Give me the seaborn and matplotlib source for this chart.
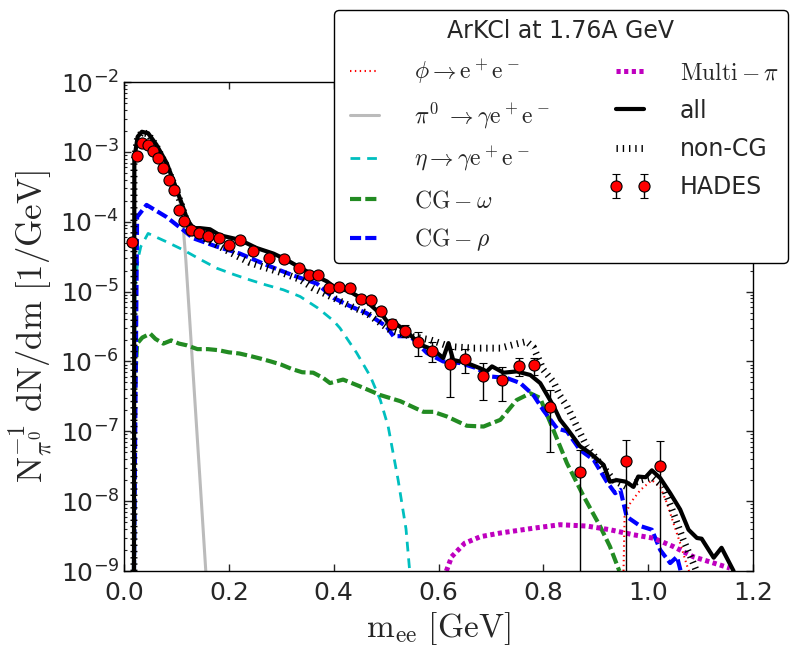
import matplotlib.pyplot as plt
import pandas as pd
import seaborn as sns
from matplotlib.ticker import LogLocator, NullFormatter

# HADES data points (m_ee in GeV, yield, symmetric error)
hades_m = [0.015, 0.025, 0.035, 0.045, 0.055, 0.065, 0.075, 0.085, 0.095, 0.105,
           0.115, 0.127, 0.143, 0.161, 0.181, 0.201, 0.221, 0.246, 0.276, 0.305,
           0.333, 0.352, 0.371, 0.392, 0.411, 0.431, 0.452, 0.471, 0.490, 0.512,
           0.536, 0.561, 0.588, 0.622, 0.651, 0.684, 0.721, 0.754, 0.782, 0.812,
           0.870, 0.957, 1.022]
hades_y = [5.1e-5, 8.7e-4, 1.33e-3, 1.26e-3, 1.03e-3, 8.1e-4, 5.8e-4, 4.0e-4, 2.8e-4, 1.49e-4,
           1.02e-4, 7.6e-5, 6.8e-5, 6.3e-5, 5.8e-5, 4.66e-5, 5.4e-5, 3.8e-5, 3.0e-5, 2.9e-5,
           2.16e-5, 1.75e-5, 1.73e-5, 1.12e-5, 1.18e-5, 1.14e-5, 7.9e-6, 7.6e-6, 5.2e-6, 3.45e-6,
           2.77e-6, 1.9e-6, 1.43e-6, 9.1e-7, 1.09e-6, 6.1e-7, 5.5e-7, 8.65e-7, 8.85e-7, 2.2e-7,
           2.6e-8, 3.7e-8, 3.2e-8]
hades_err = [3e-6, 4e-5, 5e-5, 5e-5, 4e-5, 3e-5, 2.5e-5, 2e-5, 1.4e-5, 8e-6,
             6e-6, 5e-6, 4.5e-6, 4e-6, 4e-6, 3.5e-6, 4e-6, 3e-6, 2.5e-6, 2.5e-6,
             2.2e-6, 2e-6, 2e-6, 1.5e-6, 1.6e-6, 1.6e-6, 1.1e-6, 1.1e-6, 7e-7, 5.5e-7,
             5.5e-7, 7e-7, 4.5e-7, 6e-7, 4e-7, 3.3e-7, 2.8e-7, 2.5e-7, 2.5e-7, 1.7e-7,
             2.8e-8, 3.8e-8, 4e-8]

# model curves
phi_m = [0.953, 0.955, 0.966, 0.985, 1.007, 1.023, 1.036, 1.048, 1.061, 1.074, 1.078]
phi_y = [1e-9, 6e-9, 9.4e-9, 1.44e-8, 2.0e-8, 1.6e-8, 9.3e-9, 4.9e-9, 2.5e-9, 1.2e-9, 1e-9]

pi0_m = [0.019, 0.0197, 0.026, 0.034, 0.046, 0.062, 0.080, 0.097, 0.110, 0.118,
         0.125, 0.135, 0.145, 0.156]
pi0_y = [1e-9, 8e-4, 1.6e-3, 1.9e-3, 1.8e-3, 1.2e-3, 6.5e-4, 3.2e-4, 1.6e-4, 2.8e-5,
         4.3e-6, 2.9e-7, 2e-8, 1e-9]

eta_m = [0.019, 0.021, 0.027, 0.032, 0.046, 0.080, 0.113, 0.145, 0.177, 0.210,
         0.240, 0.270, 0.304, 0.336, 0.370, 0.400, 0.412, 0.444, 0.470, 0.489,
         0.504, 0.523, 0.538, 0.545]
eta_y = [1e-9, 1.2e-5, 3e-5, 4.4e-5, 6.8e-5, 5.2e-5, 3.95e-5, 2.9e-5, 2.16e-5, 1.75e-5,
         1.47e-5, 1.25e-5, 1.06e-5, 8.5e-6, 5.8e-6, 3.8e-6, 3.0e-6, 1.32e-6, 6.1e-7, 2.8e-7,
         1.17e-7, 2.0e-8, 4e-9, 1e-9]

omega_m = [0.019, 0.021, 0.025, 0.035, 0.050, 0.060, 0.075, 0.090, 0.105, 0.120,
           0.140, 0.160, 0.180, 0.200, 0.220, 0.240, 0.260, 0.280, 0.300, 0.320,
           0.340, 0.361, 0.380, 0.393, 0.418, 0.450, 0.489, 0.527, 0.571, 0.590,
           0.616, 0.654, 0.686, 0.718, 0.749, 0.775, 0.794, 0.800, 0.819, 0.845,
           0.877, 0.908, 0.927, 0.945]
omega_y = [1e-9, 5e-7, 1.8e-6, 2.2e-6, 2.5e-6, 2.1e-6, 1.8e-6, 2.0e-6, 1.8e-6, 1.7e-6,
           1.5e-6, 1.5e-6, 1.45e-6, 1.35e-6, 1.3e-6, 1.2e-6, 1.1e-6, 1.0e-6, 9e-7, 7.8e-7,
           7e-7, 6.9e-7, 5.8e-7, 4.9e-7, 5.5e-7, 4.4e-7, 3.3e-7, 2.7e-7, 1.9e-7, 1.9e-7,
           1.63e-7, 1.2e-7, 1.17e-7, 1.46e-7, 2.8e-7, 3.5e-7, 3.0e-7, 2.3e-7, 1.05e-7, 3.5e-8,
           1.17e-8, 4.4e-9, 2.25e-9, 1e-9]

rho_m = [0.019, 0.025, 0.043, 0.081, 0.113, 0.132, 0.177, 0.221, 0.272, 0.323,
         0.368, 0.400, 0.431, 0.463, 0.501, 0.514, 0.546, 0.578, 0.609, 0.641,
         0.673, 0.698, 0.730, 0.756, 0.781, 0.800, 0.826, 0.845, 0.870, 0.896,
         0.921, 0.937, 0.947, 0.959, 0.985, 1.007, 1.023, 1.042, 1.055, 1.062]
rho_y = [1e-9, 1.17e-4, 1.74e-4, 1.17e-4, 7.6e-5, 5.8e-5, 4.4e-5, 3.5e-5, 2.4e-5, 1.7e-5,
         1.3e-5, 8.1e-6, 6.2e-6, 4.9e-6, 3.15e-6, 2.3e-6, 2.3e-6, 1.32e-6, 1.0e-6, 9.5e-7,
         8e-7, 6.1e-7, 5.8e-7, 4.9e-7, 3.3e-7, 2.0e-7, 1.1e-7, 1.0e-7, 5.4e-8, 3.9e-8,
         1.9e-8, 1.3e-8, 1.45e-8, 6e-9, 4.4e-9, 3.9e-9, 2e-9, 1.3e-9, 1.6e-9, 1e-9]

multi_m = [0.615, 0.625, 0.650, 0.680, 0.718, 0.781, 0.832, 0.883, 0.927, 0.972,
           1.010, 1.048, 1.086, 1.125, 1.156]
multi_y = [1e-9, 1.6e-9, 2.5e-9, 3.1e-9, 3.5e-9, 4.1e-9, 4.6e-9, 4.4e-9, 3.9e-9, 3.3e-9,
           2.95e-9, 2.24e-9, 1.6e-9, 1.3e-9, 1.1e-9]

all_m = [0.019, 0.0197, 0.026, 0.034, 0.046, 0.062, 0.0815, 0.097, 0.110, 0.121,
         0.132, 0.145, 0.164, 0.183, 0.221, 0.253, 0.285, 0.310, 0.336, 0.360,
         0.387, 0.400, 0.431, 0.463, 0.495, 0.511, 0.520, 0.5395, 0.565, 0.590,
         0.609, 0.619, 0.628, 0.654, 0.679, 0.692, 0.702, 0.724, 0.749, 0.775,
         0.794, 0.820, 0.832, 0.845, 0.870, 0.889, 0.915, 0.927, 0.940, 0.957,
         0.972, 0.981, 0.995, 1.007, 1.023, 1.042, 1.061, 1.077, 1.093, 1.102,
         1.125, 1.140, 1.163]
all_y = [1e-9, 8e-4, 1.65e-3, 1.94e-3, 1.85e-3, 1.26e-3, 6.9e-4, 3.4e-4, 1.84e-4, 1.06e-4,
         8.1e-5, 8.1e-5, 7.8e-5, 6.4e-5, 5.5e-5, 4.2e-5, 3.5e-5, 2.85e-5, 2.2e-5, 1.75e-5,
         1.4e-5, 1.18e-5, 1.0e-5, 7.2e-6, 4.4e-6, 3.0e-6, 3.4e-6, 2.68e-6, 1.74e-6, 1.47e-6,
         1.12e-6, 1.83e-6, 1.05e-6, 9.5e-7, 8e-7, 7.2e-7, 8.5e-7, 6.9e-7, 7.2e-7, 6.4e-7,
         4.9e-7, 2.26e-7, 1.46e-7, 1.1e-7, 6.1e-8, 4.9e-8, 3.3e-8, 1.9e-8, 2.0e-8, 1.9e-8,
         1.6e-8, 2.25e-8, 2.2e-8, 2.76e-8, 2.14e-8, 1.3e-8, 7.6e-9, 3.9e-9, 2.97e-9, 2.9e-9,
         1.55e-9, 2.15e-9, 1e-9]

noncg_m = [0.019, 0.019, 0.026, 0.034, 0.046, 0.062, 0.080, 0.097, 0.110, 0.121,
           0.132, 0.145, 0.165, 0.183, 0.210, 0.240, 0.270, 0.304, 0.335, 0.361,
           0.400, 0.430, 0.463, 0.508, 0.546, 0.584, 0.622, 0.667, 0.718, 0.743,
           0.768, 0.781, 0.800, 0.820, 0.832, 0.845, 0.864, 0.883, 0.908, 0.934,
           0.959, 0.985, 1.007, 1.029, 1.048, 1.067, 1.086, 1.092]
noncg_y = [1e-9, 7e-4, 1.6e-3, 1.9e-3, 1.8e-3, 1.2e-3, 6.5e-4, 3.2e-4, 1.7e-4, 9.5e-5,
           7e-5, 6.2e-5, 5.2e-5, 4.4e-5, 3.4e-5, 2.6e-5, 2.2e-5, 1.83e-5, 1.5e-5, 1.12e-5,
           8.1e-6, 6.3e-6, 4.9e-6, 2.8e-6, 2.3e-6, 2.04e-6, 1.63e-6, 1.55e-6, 1.55e-6, 1.74e-6,
           1.93e-6, 1.6e-6, 7.6e-7, 5e-7, 3.2e-7, 2.3e-7, 1.17e-7, 6e-8, 3.5e-8, 2.0e-8,
           1.6e-8, 2.0e-8, 2.2e-8, 1.6e-8, 6.8e-9, 2.8e-9, 1.3e-9, 1e-9]

y_ticks = [1e-9, 1e-8, 1e-7, 1e-6, 1e-5, 1e-4, 1e-3, 1e-2]
y_ticklabels = [r'$\mathdefault{10^{-9}}$', r'$\mathdefault{10^{-8}}$',
                r'$\mathdefault{10^{-7}}$', r'$\mathdefault{10^{-6}}$',
                r'$\mathdefault{10^{-5}}$', r'$\mathdefault{10^{-4}}$',
                r'$\mathdefault{10^{-3}}$', r'$\mathdefault{10^{-2}}$']
x_ticks = [0.0, 0.2, 0.4, 0.6, 0.8, 1.0, 1.2]

sns.set_style('ticks')
plt.rcParams['font.family'] = ['DejaVu Sans']
plt.rcParams['mathtext.fontset'] = 'cm'
plt.rcParams['lines.scale_dashes'] = False
plt.rcParams['axes.unicode_minus'] = False
plt.rcParams['axes.edgecolor'] = 'black'
plt.rcParams['axes.linewidth'] = 1.0

fig, ax = plt.subplots(figsize=(7.97, 6.54), dpi=100)
fig.subplots_adjust(left=0.1556, right=0.9448, top=0.8746, bottom=0.1269)
ax.set_yscale('log')

curves = [
    (r'$\phi \rightarrow \mathrm{e^+e^-}$', phi_m, phi_y, 'red', 1.5, (0, (1, 2.5))),
    (r'$\pi^0\ \rightarrow \gamma \mathrm{e^+e^-}$', pi0_m, pi0_y, '#bbbbbb', 2.2, '-'),
    (r'$\eta \rightarrow \gamma \mathrm{e^+e^-}$', eta_m, eta_y, '#00bfbf', 2.0, (0, (7, 5))),
    (r'$\mathrm{CG}-\omega$', omega_m, omega_y, '#228b22', 3.0, (0, (8, 3))),
    (r'$\mathrm{CG}-\rho$', rho_m, rho_y, 'blue', 3.0, (0, (8, 3))),
    (r'$\mathrm{Multi}-\pi$', multi_m, multi_y, '#bf00bf', 3.6, (0, (3, 2.5))),
    ('non-CG', noncg_m, noncg_y, 'black', 5.0, (0, (1.0, 3.5))),
    ('all', all_m, all_y, 'black', 3.0, '-'),
]
handles = {}
for label, m, y, color, lw, ls in curves:
    df = pd.DataFrame({'m': m, 'y': y})
    sns.lineplot(data=df, x='m', y='y', ax=ax, sort=False, estimator=None,
                 color=color, linewidth=lw, linestyle=ls, label=label)
    handles[label] = ax.lines[-1]

hades = ax.errorbar(hades_m, hades_y, yerr=hades_err, fmt='o', color='black',
                    mfc='red', mec='black', ms=8, mew=0.8, elinewidth=1,
                    capsize=3, capthick=1, label='HADES', zorder=5)

ax.set_xlim(0, 1.2)
ax.set_ylim(1e-9, 1e-2)
ax.set_xticks(x_ticks)
ax.set_xticklabels([f'{t:.1f}' for t in x_ticks])
ax.set_yticks(y_ticks)
ax.set_yticklabels(y_ticklabels)
ax.yaxis.set_minor_locator(LogLocator(base=10, subs=range(2, 10), numticks=20))
ax.yaxis.set_minor_formatter(NullFormatter())
ax.tick_params(which='both', direction='in', top=True, right=True, labelsize=18)
ax.tick_params(which='major', length=5, width=1)
ax.tick_params(which='minor', length=2.5, width=0.8)
ax.tick_params(axis='x', pad=7)

ax.set_xlabel(r'$\mathrm{m_{ee}\ [GeV]}$', fontsize=24)
ax.set_ylabel(r'$\mathrm{N_{\pi^0}^{-1}\ dN/dm\ [1/GeV]}$', fontsize=25)

order = [r'$\phi \rightarrow \mathrm{e^+e^-}$', r'$\pi^0\ \rightarrow \gamma \mathrm{e^+e^-}$',
         r'$\eta \rightarrow \gamma \mathrm{e^+e^-}$', r'$\mathrm{CG}-\omega$',
         r'$\mathrm{CG}-\rho$', r'$\mathrm{Multi}-\pi$', 'all', 'non-CG']
leg = ax.legend([handles[k] for k in order] + [hades], order + ['HADES'],
                ncol=2, loc='upper right', bbox_to_anchor=(0.9887, 0.9847),
                bbox_transform=fig.transFigure, borderaxespad=0,
                fontsize=17, title='ArKCl at 1.76A GeV', title_fontsize=17,
                numpoints=2, handlelength=1.8, handletextpad=1.2,
                columnspacing=2.5, labelspacing=0.6, fancybox=True,
                framealpha=1, edgecolor='black')
leg.get_frame().set_linewidth(1.0)

fig.savefig('out.png', dpi=100)
